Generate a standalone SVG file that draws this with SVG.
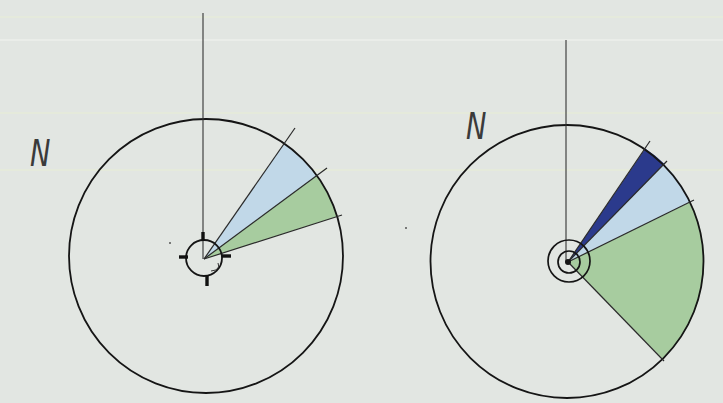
<svg xmlns="http://www.w3.org/2000/svg" width="723" height="403" viewBox="0 0 723 403">
<style>
.ring{fill:none;stroke:#151515;stroke-width:1.8}
.ray{stroke:#2a2a2a;stroke-width:1.2;fill:none}
.axis{stroke:#333;stroke-width:1.1}
.tick{stroke:#111;stroke-width:3.4;stroke-linecap:butt}
.paper{stroke-width:1.2}
.lb{fill:#c1d8e8}
.gr{fill:#a7cc9f}
.db{fill:#2b3a8c}
.n{font-family:"DejaVu Sans","Liberation Sans",sans-serif;font-style:oblique;font-weight:200;font-size:38px;fill:#3a3a3a}
</style>
<rect width="723" height="403" fill="#e2e6e2"/>
<g id="paper-lines">
<line class="paper" x1="0" y1="17" x2="723" y2="17" stroke="#eef4cf" opacity="0.6"/>
<line class="paper" x1="0" y1="40" x2="723" y2="40" stroke="#f3f5f1" opacity="0.9"/>
<line class="paper" x1="0" y1="113" x2="723" y2="113" stroke="#edf3cd" opacity="0.6"/>
<line class="paper" x1="0" y1="170" x2="723" y2="170" stroke="#edf3cd" opacity="0.6"/>
</g>
<g id="left-diagram">
<path class="lb" d="M204 259 L284.2 143.5 A137 137 0 0 1 316.9 175.5 Z"/>
<path class="gr" d="M204 259 L316.9 175.5 A137 137 0 0 1 337.2 216.5 Z"/>
<circle class="ring" cx="206" cy="256" r="137"/>
<line class="axis" x1="203" y1="13" x2="203" y2="259"/>
<line class="ray" x1="204" y1="259" x2="295" y2="128"/>
<line class="ray" x1="204" y1="259" x2="327" y2="168"/>
<line class="ray" x1="204" y1="259" x2="342" y2="215"/>
<circle class="ring" cx="204" cy="258" r="18"/>
<line class="tick" x1="179" y1="257" x2="188" y2="257"/>
<line class="tick" x1="222" y1="256" x2="231" y2="256"/>
<line class="tick" x1="203" y1="232" x2="203" y2="241"/>
<line class="tick" x1="207" y1="275" x2="207" y2="286"/>
<path d="M211 271 Q221 270 218 263" fill="none" stroke="#333" stroke-width="1"/>
<circle cx="170" cy="243" r="1" fill="#555"/>
</g>
<g id="right-diagram">
<path class="db" d="M568 262 L645.2 148.5 A136.5 136.5 0 0 1 664.5 164 Z"/>
<path class="lb" d="M568 262 L664.5 164 A136.5 136.5 0 0 1 690.5 202 Z"/>
<path class="gr" d="M568 262 L690.5 202 A136.5 136.5 0 0 1 662.8 359 Z"/>
<circle class="ring" cx="567" cy="261.5" r="136.5"/>
<line class="axis" x1="566" y1="40" x2="566" y2="262"/>
<line class="ray" x1="568" y1="262" x2="650" y2="141"/>
<line class="ray" x1="568" y1="262" x2="667" y2="161"/>
<line class="ray" x1="568" y1="262" x2="694" y2="200"/>
<line class="ray" x1="568" y1="262" x2="664" y2="361"/>
<circle cx="569" cy="261" r="21" fill="none" stroke="#151515" stroke-width="1.7"/>
<circle cx="569" cy="262" r="11" fill="none" stroke="#151515" stroke-width="1.7"/>
<circle cx="568" cy="262" r="3" fill="#151515"/>
<circle cx="406" cy="228" r="1" fill="#555"/>
</g>
<g id="labels">
<text class="n" x="30" y="166" transform="translate(30 166) scale(0.72 1) translate(-30 -166)">N</text>
<text class="n" x="466" y="139" transform="translate(466 139) scale(0.72 1) translate(-466 -139)">N</text>
</g>
</svg>
